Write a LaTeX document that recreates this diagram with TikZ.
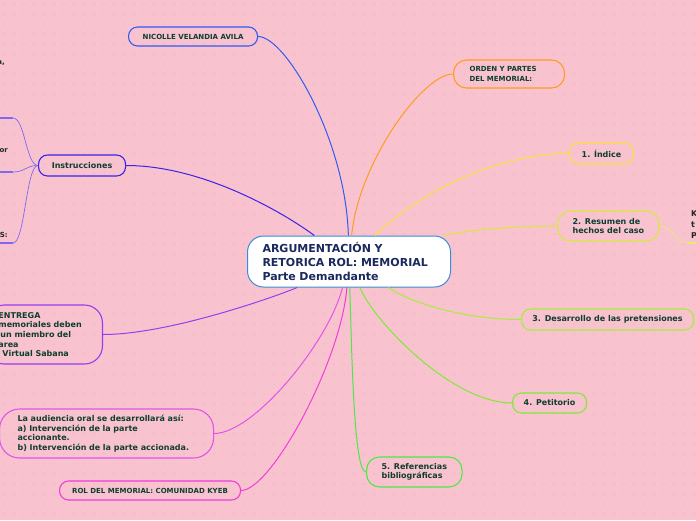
\documentclass[tikz,border=0pt]{standalone}
\usepackage{fontspec}
\setmainfont{DejaVu Sans}
\definecolor{mBg}{HTML}{F8C3CF}
\definecolor{mDot}{HTML}{EDB3C1}
\definecolor{mText}{HTML}{0F3D30}
\definecolor{mNavy}{HTML}{1B2A5C}
\definecolor{mCentral}{HTML}{3A8CD6}
\definecolor{mBlue}{HTML}{3459F2}
\definecolor{mIndigo}{HTML}{3A22E6}
\definecolor{mLilac}{HTML}{8068F0}
\definecolor{mOrange}{HTML}{FF9C22}
\definecolor{mYellow}{HTML}{FFDD3C}
\definecolor{mLime}{HTML}{D8E83A}
\definecolor{mLimeL}{HTML}{E2EE6A}
\definecolor{mGreenA}{HTML}{A6EE3A}
\definecolor{mGreenB}{HTML}{7DEB34}
\definecolor{mGreenC}{HTML}{4FE64A}
\definecolor{mMagenta}{HTML}{F03CD8}
\definecolor{mOrchid}{HTML}{E055E8}
\definecolor{mViolet}{HTML}{9A3BF0}
\usetikzlibrary{positioning}

\begin{document}
\begin{tikzpicture}[x=1pt,y=-1pt,
    topic/.style={draw, line width=1.1pt, rounded corners=9pt, text=mText,
      font=\bfseries\fontsize{8}{9.6}\selectfont, align=left, anchor=west, inner ysep=0pt},
    caps/.style={topic, font=\bfseries\fontsize{7}{10}\selectfont},
    branch/.style={line width=1pt},
    twig/.style={line width=0.7pt},
    frag/.style={font=\bfseries\fontsize{7}{8}\selectfont, text=black!85, inner sep=0pt}]
    \useasboundingbox (0,0) rectangle (696,520);
    \clip (0,0) rectangle (696,520);
    \fill[mBg] (0,0) rectangle (696,520);
    \foreach \i in {0,...,69}{
      \foreach \j in {0,...,51}{
        \fill[mDot] (\i*10+4,\j*10+4) circle (0.9pt);
      }
    }

    % central topic
    \node[draw=mCentral, fill=white, line width=1pt, rounded corners=16pt, text=mNavy,
      font=\bfseries\fontsize{11}{14}\selectfont, align=left, anchor=west,
      text width=173pt, inner xsep=15pt, inner ysep=0pt, minimum height=51pt]
      (central) at (247,261.5) {ARGUMENTACIÓN Y\\RETORICA ROL: MEMORIAL\\Parte Demandante};

    % main topics
    \node[caps, draw=mBlue, minimum width=129pt, minimum height=19pt] (nicolle) at (128,36.5) {NICOLLE VELANDIA AVILA};
    \node[caps, draw=mOrange, rounded corners=13pt, text width=79pt, inner xsep=16pt, minimum height=28pt] (orden) at (453,74) {ORDEN Y PARTES\\DEL MEMORIAL:};
    \node[topic, draw=mYellow, minimum width=64pt, minimum height=21pt] (indice) at (569,153.5) {1. Índice};
    \node[topic, draw=mLime, rounded corners=13pt, inner xsep=15pt, minimum height=30pt] (resumen) at (557,226) {2. Resumen de\\hechos del caso};
    \node[topic, draw=mGreenA, minimum width=172pt, minimum height=21pt] (desarrollo) at (521,319.5) {3. Desarrollo de las pretensiones};
    \node[topic, draw=mGreenB, minimum width=74pt, minimum height=20pt] (petitorio) at (512,403) {4. Petitorio};
    \node[topic, draw=mGreenC, rounded corners=13pt, inner xsep=15pt, minimum height=30pt] (referencias) at (366,472) {5. Referencias\\bibliográficas};
    \node[caps, draw=mMagenta, minimum width=181pt, minimum height=19pt] (rol) at (59,490.5) {ROL DEL MEMORIAL: COMUNIDAD KYEB};
    \node[topic, draw=mOrchid, rounded corners=20pt, text width=178pt, inner xsep=18pt, minimum height=49pt] (audiencia) at (-1,433.5)
      {La audiencia oral se desarrollará así:\\a) Intervención de la parte\\accionante.\\b) Intervención de la parte accionada.};
    \node[topic, draw=mViolet, anchor=east, rounded corners=18pt, text width=92pt, inner xsep=12pt, minimum height=59pt] (entrega) at (103,334.5)
      {ENTREGA\\memoriales deben\\\hspace*{2pt}un miembro del\\area\\\hspace*{4pt}Virtual Sabana};
    \node[topic, draw=mIndigo, minimum width=87pt, minimum height=21pt] (instr) at (38,165.5) {Instrucciones};

    % cut off sub topics
    \node[frag, anchor=east] (fragA) at (5,63) {a,};
    \node[frag, anchor=east] (fragB) at (8,151) {or};
    \node[frag, anchor=east] (fragC) at (8,235) {ES:};
    \node[frag, font=\bfseries\fontsize{8}{11}\selectfont, align=left, anchor=west] (fragD) at (691,225) {K\\t\\P};
    \coordinate (k1) at (13,118);  \coordinate (k1e) at (0,118);
    \coordinate (k2) at (13,172);  \coordinate (k2e) at (0,172);
    \coordinate (k3) at (13,243);  \coordinate (k3e) at (0,243);
    \coordinate (r1) at (688,243); \coordinate (r1e) at (700,243);

    % branches
    \draw[branch, mBlue] (nicolle.east) .. controls +(28,0) and +(-3,-120) .. (central);
    \draw[branch, mOrange] (orden.west) .. controls +(-30,0) and +(10,-100) .. (central);
    \draw[branch, mYellow] (indice.west) .. controls +(-70,0) and +(70,-70) .. (central);
    \draw[branch, mLime] (resumen.west) .. controls +(-50,0) and +(110,-30) .. (central);
    \draw[branch, mGreenA] (desarrollo.west) .. controls +(-60,0) and +(60,40) .. (central);
    \draw[branch, mGreenB] (petitorio.west) .. controls +(-60,0) and +(25,60) .. (central);
    \draw[branch, mGreenC] (referencias.west) .. controls +(-12,0) and +(3,100) .. (central);
    \draw[branch, mMagenta] (rol.east) .. controls +(30,0) and +(-8,100) .. (central);
    \draw[branch, mOrchid] (audiencia.east) .. controls +(40,0) and +(-20,80) .. (central);
    \draw[branch, mViolet] (entrega.east) .. controls +(70,0) and +(-60,30) .. (central);
    \draw[branch, mIndigo] (instr.east) .. controls +(80,0) and +(-60,-45) .. (central);

    % twigs
    \foreach \k in {k1,k2,k3}{
      \draw[twig, mLilac] (instr.west) .. controls +(-12,0) and +(12,0) .. (\k);
      \draw[mLilac, line width=1.6pt] (\k) -- (\k e);
    }
    \draw[twig, mLimeL] (resumen.east) .. controls +(15,0) and +(-15,0) .. (r1);
    \draw[mLimeL, line width=1.6pt] (r1) -- (r1e);
  \end{tikzpicture}
\end{document}
